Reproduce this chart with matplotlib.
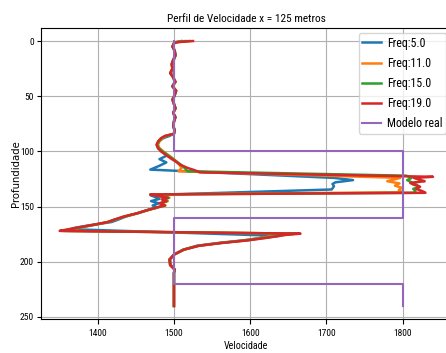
import matplotlib
matplotlib.use("Agg")
import matplotlib.pyplot as plt

# Velocity profiles (depth in m, velocity in m/s) for each inversion frequency
prof_5 = [0, 1, 2, 5, 9, 13, 17, 21, 25, 29, 33, 37, 41, 45, 49, 53, 57, 61, 65, 69, 73, 77, 81, 84,
          86, 88, 91, 94, 97, 100, 102, 104, 107, 110, 113, 116.5, 124, 126, 128, 129.5, 131.5, 134.5,
          139.5, 141, 143, 145, 147, 149, 151, 153, 156, 159, 162, 164, 166, 168, 169.5, 170.5,
          176.5, 178, 180.5, 183, 185.5, 189, 193.5, 198, 203, 207, 210, 220, 230, 240]
vel_5 = [1510, 1502, 1500, 1499, 1501, 1502, 1500, 1498, 1499, 1496, 1499, 1501, 1498, 1502, 1501, 1499, 1500, 1502, 1499, 1501, 1500, 1499, 1501, 1500,
         1494, 1486, 1480, 1478, 1479, 1484, 1488, 1490, 1481, 1490, 1481, 1469, 1710, 1735, 1712, 1708, 1710, 1707,
         1469, 1474, 1481, 1470, 1480, 1472, 1478, 1466, 1452, 1437, 1426, 1418, 1398, 1380, 1368, 1365,
         1638, 1618, 1592, 1558, 1530, 1512, 1500, 1495, 1496, 1501, 1500, 1500, 1500, 1500]

prof_11 = [0, 1, 2, 5, 9, 13, 17, 21, 25, 29, 33, 37, 41, 45, 49, 53, 57, 61, 65, 69, 73, 77, 81, 84,
           86, 88, 91, 94, 97, 100, 103, 106, 109, 112, 115, 118, 124, 127, 129, 131, 133, 135, 137,
           139, 140.5, 142, 143.5, 145, 147, 149, 150.5, 153, 156, 159, 162, 164, 166, 168, 170, 172,
           174.5, 176, 178, 180.5, 183, 185.5, 189, 193.5, 198, 203, 207, 210, 220, 230, 240]
vel_11 = [1515, 1503, 1500, 1498, 1501, 1502, 1499, 1497, 1498, 1496, 1499, 1502, 1498, 1502, 1501, 1498, 1500, 1502, 1499, 1502, 1500, 1499, 1501, 1500,
          1490, 1485, 1481, 1479, 1481, 1486, 1492, 1498, 1503, 1507, 1510, 1506, 1797, 1780, 1796, 1790, 1799, 1795, 1800,
          1470, 1482, 1494, 1487, 1492, 1484, 1489, 1480, 1467, 1453, 1436, 1422, 1414, 1400, 1385, 1370, 1357,
          1655, 1635, 1618, 1594, 1560, 1532, 1513, 1500, 1495, 1495, 1501, 1500, 1500, 1500, 1500]

prof_15 = [0, 1, 2, 5, 9, 13, 17, 21, 25, 29, 33, 37, 41, 45, 49, 53, 57, 61, 65, 69, 73, 77, 81, 84,
           86, 88, 91, 94, 97, 100, 103, 106, 109, 112, 115, 118, 122, 124, 126, 128, 130, 132, 134, 136, 137.5,
           139, 140.5, 142, 143.5, 145, 147, 149, 150.5, 153, 156, 159, 162, 164, 166, 168, 170, 172,
           174.5, 176, 178, 180.5, 183, 185.5, 189, 193.5, 198, 203, 207, 210, 220, 230, 240]
vel_15 = [1520, 1504, 1500, 1498, 1501, 1502, 1499, 1497, 1498, 1495, 1499, 1502, 1498, 1503, 1501, 1498, 1500, 1502, 1499, 1502, 1500, 1499, 1501, 1500,
          1489, 1484, 1480, 1478, 1480, 1485, 1491, 1497, 1503, 1509, 1514, 1518, 1805, 1812, 1806, 1812, 1818, 1822, 1814, 1817, 1815,
          1469, 1481, 1493, 1485, 1491, 1482, 1488, 1479, 1466, 1452, 1435, 1421, 1413, 1399, 1383, 1367, 1353,
          1660, 1640, 1622, 1596, 1561, 1532, 1513, 1500, 1494, 1495, 1501, 1500, 1500, 1500, 1500]

prof_19 = [0, 1, 2, 5, 9, 13, 17, 21, 25, 29, 33, 37, 41, 45, 49, 53, 57, 61, 65, 69, 73, 77, 81, 84,
           86, 88, 91, 94, 97, 100, 103, 106, 109, 112, 115, 117, 119, 123, 124, 125.5, 127, 128.5, 130, 132, 134, 136, 137.5,
           139, 140.5, 142, 143.5, 145, 147, 149, 150.5, 153, 156, 159, 162, 164, 166, 168, 170, 172,
           174.5, 175.7, 178, 180.5, 183, 185.5, 189, 193.5, 198, 203, 207, 210, 220, 230, 240]
vel_19 = [1525, 1505, 1500, 1498, 1501, 1502, 1499, 1497, 1498, 1495, 1499, 1502, 1498, 1503, 1501, 1498, 1500, 1502, 1499, 1502, 1500, 1499, 1501, 1500,
          1488, 1483, 1479, 1477, 1479, 1483, 1489, 1495, 1502, 1508, 1518, 1527, 1534, 1840, 1815, 1822, 1829, 1810, 1814, 1823, 1818, 1826, 1830,
          1469, 1480, 1492, 1484, 1490, 1481, 1488, 1479, 1466, 1452, 1434, 1421, 1413, 1398, 1382, 1366, 1350,
          1666, 1646, 1625, 1598, 1562, 1533, 1513, 1500, 1494, 1495, 1501, 1500, 1500, 1500, 1500]

# True layered model
prof_real = [0, 100, 100, 160, 160, 220, 220, 240]
vel_real = [1500, 1500, 1800, 1800, 1500, 1500, 1800, 1800]

series = [
    ("Freq:5.0", vel_5, prof_5),
    ("Freq:11.0", vel_11, prof_11),
    ("Freq:15.0", vel_15, prof_15),
    ("Freq:19.0", vel_19, prof_19),
]

narrow = ["Roboto Condensed", "DejaVu Sans"]

fig = plt.figure(figsize=(4.46, 3.53), dpi=100)
ax = fig.add_axes([0.0919, 0.0958, 0.9209, 0.8255])

for label, v, p in series:
    ax.plot(v, p, lw=1.8, label=label)
ax.plot(vel_real, prof_real, lw=1.5, label="Modelo real")

ax.set_xlim(1325.5, 1864.5)
ax.set_ylim(252, -12)
ax.set_xticks([1400, 1500, 1600, 1700, 1800])
ax.set_yticks([0, 50, 100, 150, 200, 250])
ax.grid(True)

ax.tick_params(axis="y", length=2.6, pad=2.5)
for t in ax.get_xticklabels() + ax.get_yticklabels():
    t.set_family(narrow)
    t.set_fontsize(6.8)

ax.set_title("Perfil de Velocidade x = 125 metros", family=narrow, fontsize=8.2, pad=4.5)
ax.set_xlabel("Velocidade", family=narrow, fontsize=7.2, labelpad=2)
ax.set_ylabel("Profundidade", family="DejaVu Sans", fontsize=7.3, labelpad=-1)

ax.legend(loc="upper right", bbox_to_anchor=(0.986, 0.982), borderaxespad=0,
          prop={"family": narrow, "size": 8.6}, handlelength=1.55,
          handletextpad=0.5, labelspacing=0.6, borderpad=0.3)

fig.savefig("out.png", dpi=100)
